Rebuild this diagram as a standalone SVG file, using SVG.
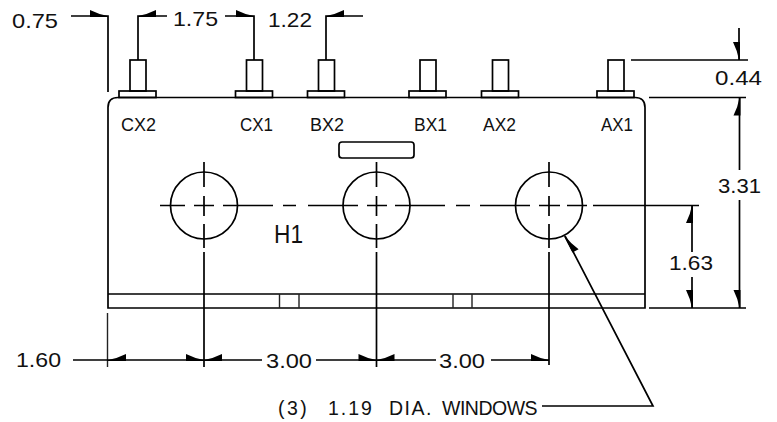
<svg xmlns="http://www.w3.org/2000/svg" width="777" height="422" viewBox="0 0 777 422">
<style>
.l{fill:none;stroke:#000;stroke-width:1.7}
.t{fill:none;stroke:#222;stroke-width:1.4}
text{font-family:"Liberation Sans",Arial,sans-serif;fill:#111}
.d{font-size:21px}
.w{font-size:19.500px}
.p{font-size:18px}
</style>
<defs>
<path id="a" d="M0 0Q9 -1.500 18 -6L18 1L0 1Z" fill="#000"/>
<g id="pin"><rect class="l" x="11" y="0" width="16" height="31"/><rect class="l" x="0" y="31" width="37" height="6.500"/></g>
</defs>
<rect width="777" height="422" fill="#fff"/>
<g id="body">
<path class="l" d="M108 308V107.500Q108 97.500 118 97.500H635Q645 97.500 645 107.500V308ZM108 294H645"/>
<path class="t" d="M279.500 294V308M299 294V308M453 294V308M472 294V308"/>
<rect class="l" x="339" y="142" width="75" height="16" rx="3"/>
</g>
<g id="pins">
<use href="#pin" x="119" y="60"/><use href="#pin" x="235.500" y="60"/><use href="#pin" x="307.500" y="60"/><use href="#pin" x="409" y="60"/><use href="#pin" x="481.500" y="60"/><use href="#pin" x="597" y="60"/>
</g>
<g id="windows">
<circle class="l" cx="204" cy="205.500" r="33.500"/><circle class="l" cx="376.500" cy="205.500" r="33.500"/><circle class="l" cx="549" cy="205.500" r="33.500"/>
<path class="l" d="M160 205.500H185M194 205.500H214M223 205.500H273M283 205.500H296M308 205.500H358M367 205.500H387M395 205.500H445M456 205.500H470M480 205.500H530M539 205.500H560M567 205.500H587M593 205.500H699"/>
<path class="l" d="M204 162V187M204 196V216M204 224V248M204 252V367M376.500 162V187M376.500 196V216M376.500 224V248M376.500 252V367M549 162V187M549 196V216M549 224V248M549 252V365"/>
</g>
<g id="connectors">
<path class="l" d="M71 16H108V92M138 60V16H167M225 16H254V60M326 60V16H363"/>
<path class="l" d="M631 60H748M739 28V60M649 97.500H746M739.500 97.500V170M739.500 200V308M649 308H746M692 205V252M692 277V308"/>
<path class="t" d="M107.500 313V367"/>
<path class="l" d="M73 360H262M316 360H436M491 360H549"/>
<path class="l" d="M565 236L653 406H542"/>
<use href="#a" transform="translate(108 16) scale(-1 1)"/>
<use href="#a" transform="translate(138 16)"/>
<use href="#a" transform="translate(254 16) scale(-1 1)"/>
<use href="#a" transform="translate(326 16)"/>
<use href="#a" transform="translate(739 60) rotate(-90)"/>
<use href="#a" transform="translate(739.500 97.500) rotate(90) scale(1 -1)"/>
<use href="#a" transform="translate(739.500 308) rotate(-90)"/>
<use href="#a" transform="translate(692 205) rotate(90) scale(1 -1)"/>
<use href="#a" transform="translate(692 308) rotate(-90)"/>
<use href="#a" transform="translate(108 360)"/>
<use href="#a" transform="translate(204 360) scale(-1 1)"/>
<use href="#a" transform="translate(204 360)"/>
<use href="#a" transform="translate(376.500 360) scale(-1 1)"/>
<use href="#a" transform="translate(376.500 360)"/>
<use href="#a" transform="translate(549 360) scale(-1 1)"/>
<use href="#a" transform="translate(565 236) rotate(62.600)"/>
</g>
<g id="dimensions">
<text class="d" x="12" y="28" textLength="46" lengthAdjust="spacingAndGlyphs">0.75</text>
<text class="d" x="173" y="25.500" textLength="45" lengthAdjust="spacingAndGlyphs">1.75</text>
<text class="d" x="268" y="26.500" textLength="44" lengthAdjust="spacingAndGlyphs">1.22</text>
<text class="d" x="715" y="85" textLength="47" lengthAdjust="spacingAndGlyphs">0.44</text>
<text class="d" x="718" y="193" textLength="43" lengthAdjust="spacingAndGlyphs">3.31</text>
<text class="d" x="669" y="270" textLength="44" lengthAdjust="spacingAndGlyphs">1.63</text>
<text class="d" x="16" y="367" textLength="45" lengthAdjust="spacingAndGlyphs">1.60</text>
<text class="d" x="266" y="367.500" textLength="46" lengthAdjust="spacingAndGlyphs">3.00</text>
<text class="d" x="439" y="367.500" textLength="46" lengthAdjust="spacingAndGlyphs">3.00</text>
<text x="274" y="243" font-size="26" textLength="29" lengthAdjust="spacingAndGlyphs">H1</text>
<text class="w" y="415"><tspan x="278" letter-spacing="2.500">(3)</tspan> <tspan x="328" letter-spacing="2">1.19</tspan> <tspan x="389" letter-spacing="1.500">DIA.</tspan> <tspan x="442" letter-spacing="-0.500">WINDOWS</tspan></text>
</g>
<g id="labels">
<text class="p" x="121" y="130.500" textLength="35" lengthAdjust="spacingAndGlyphs">CX2</text>
<text class="p" x="240" y="130.500" textLength="33" lengthAdjust="spacingAndGlyphs">CX1</text>
<text class="p" x="310" y="130.500" textLength="34" lengthAdjust="spacingAndGlyphs">BX2</text>
<text class="p" x="414" y="130.500" textLength="33" lengthAdjust="spacingAndGlyphs">BX1</text>
<text class="p" x="483" y="130.500" textLength="33" lengthAdjust="spacingAndGlyphs">AX2</text>
<text class="p" x="601" y="130.500" textLength="32" lengthAdjust="spacingAndGlyphs">AX1</text>
</g>
</svg>
